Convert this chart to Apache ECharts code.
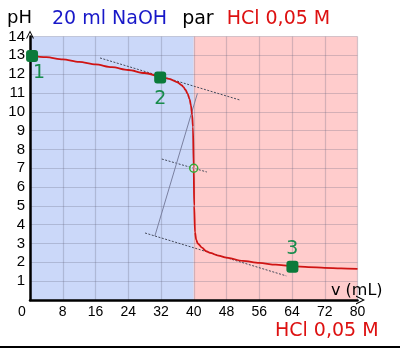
<!DOCTYPE html>
<html><head><meta charset="utf-8">
<script src="https://cdn.jsdelivr.net/npm/echarts@6/dist/echarts.min.js"></script>
<style>html,body{margin:0;padding:0;background:#fff}#c{width:400px;height:348px}</style>
</head><body><div id="c"></div>
<script>
// titration curve (volume of HCl in mL, pH)
const volume = [0, 4, 8, 12, 16, 20, 24, 28, 32, 34, 36, 37, 37.5, 38, 38.5, 39, 39.3, 39.6, 39.8, 40, 40.1, 40.3, 40.6, 41, 42, 43, 44, 46, 48, 52, 56, 60, 64, 68, 72, 76, 80];
const pH = [13.0, 12.9, 12.78, 12.65, 12.52, 12.37, 12.22, 12.06, 11.87, 11.75, 11.57, 11.42, 11.31, 11.16, 10.96, 10.66, 10.35, 9.85, 9.2, 7.0, 5.0, 3.6, 3.2, 3.0, 2.78, 2.6, 2.5, 2.36, 2.25, 2.08, 1.97, 1.88, 1.8, 1.75, 1.71, 1.68, 1.65];
// marked points
const pointV = [0.5, 31.8, 64.1];
const pointPH = [12.97, 11.82, 1.77];
const pointLabels = ['1', '2', '3'];
// equivalence point
const eqV = 40, eqPH = 7;
// construction lines (tangent method)
const upperTangent = [[17.1, 12.86], [51.2, 10.63]];
const lowerTangent = [[28.1, 3.56], [62.6, 1.28]];
const middleLine = [[32.2, 7.49], [43.2, 6.8]];
const connector = [[40.9, 10.98], [30.5, 3.4]];
// background zones
const zoneBase = [0, 40];
const zoneAcid = [40, 80];
const xTicks = [0, 8, 16, 24, 32, 40, 48, 56, 64, 72, 80];
const yTicks = [0, 14];

const chart = echarts.init(document.getElementById('c'), null, {renderer: 'canvas'});
const arrowPath = 'path://M0,10 L5,0 L10,10 L8.6,10 L5,2.6 L1.4,10 Z';
const T = 'DejaVu Sans';
const L = 'Liberation Sans, Arial, sans-serif';

chart.setOption({
  animation: false,
  grid: {left: 30, right: 42.5, top: 36.5, bottom: 48},
  xAxis: {
    type: 'value', min: xTicks[0], max: xTicks[xTicks.length - 1], interval: 8, z: 2,
    axisLine: {show: true, lineStyle: {color: '#000', width: 2.5}, symbol: ['none', arrowPath], symbolSize: [9, 10], symbolOffset: [0, 3]},
    axisTick: {show: false},
    splitLine: {show: true, lineStyle: {color: 'rgba(100,100,125,0.28)', width: 1.2}},
    axisLabel: {
      color: '#000', fontSize: 14, fontFamily: L, margin: 5,
      formatter: v => v === 0 ? '{z|0}' : String(v),
      rich: {z: {fontSize: 14, fontFamily: L, color: '#000', padding: [0, 16, 0, 0]}}
    }
  },
  yAxis: {
    type: 'value', min: yTicks[0], max: yTicks[1], interval: 1, z: 2,
    axisLine: {show: true, onZero: false, lineStyle: {color: '#000', width: 2.5}, symbol: ['none', arrowPath], symbolSize: [8, 9], symbolOffset: [0, 2]},
    axisTick: {show: false},
    splitLine: {show: true, lineStyle: {color: 'rgba(100,100,125,0.28)', width: 1.2}},
    axisLabel: {color: '#000', fontSize: 15, fontFamily: L, margin: 5, showMinLabel: false}
  },
  title: [
    {left: 52, top: 7, padding: 0, text: '{b|20 ml NaOH}{k|par}{r|HCl 0,05 M}',
     textStyle: {fontWeight: 'normal', rich: {
       b: {color: '#1818c8', fontSize: 19, fontFamily: T, fontWeight: 'normal', lineHeight: 24},
       k: {color: '#000', fontSize: 19, fontFamily: T, fontWeight: 'normal', lineHeight: 24, padding: [0, 0, 0, 15]},
       r: {color: '#dd1111', fontSize: 19, fontFamily: T, fontWeight: 'normal', lineHeight: 24, padding: [0, 0, 0, 13]}
     }}},
    {left: 275, top: 319, padding: 0, text: 'HCl 0,05 M', textStyle: {color: '#dd1111', fontSize: 19, fontFamily: T, fontWeight: 'normal', lineHeight: 24}},
    {left: 7, top: 6, padding: 0, text: 'pH', textStyle: {color: '#000', fontSize: 18, fontFamily: T, fontWeight: 'normal', lineHeight: 24}},
    {left: 331, top: 280, padding: 0, text: 'v (mL)', textStyle: {color: '#000', fontSize: 16, fontFamily: T, fontWeight: 'normal', lineHeight: 22}}
  ],
  graphic: [
    {type: 'line', shape: {x1: 0, y1: 347, x2: 400, y2: 347}, style: {stroke: '#000', lineWidth: 2}}
  ],
  series: [
    {type: 'line', data: [], z: 1, silent: true,
     markArea: {silent: true, z: 1, data: [
       [{xAxis: zoneBase[0], yAxis: yTicks[0], itemStyle: {color: '#cbd8f9'}}, {xAxis: zoneBase[1], yAxis: yTicks[1]}],
       [{xAxis: zoneAcid[0], yAxis: yTicks[0], itemStyle: {color: '#ffcccc'}}, {xAxis: zoneAcid[1], yAxis: yTicks[1]}]
     ]}},
    {type: 'line', data: upperTangent, symbol: 'none', z: 3, silent: true, lineStyle: {color: '#444a5a', width: 1, type: [2, 1.5]}},
    {type: 'line', data: lowerTangent, symbol: 'none', z: 3, silent: true, lineStyle: {color: '#444a5a', width: 1, type: [2, 1.5]}},
    {type: 'line', data: middleLine, symbol: 'none', z: 3, silent: true, lineStyle: {color: '#444a5a', width: 1, type: [2, 1.5]}},
    {type: 'line', data: connector, symbol: 'none', z: 3, silent: true, lineStyle: {color: '#7a80a0', width: 1}},
    {type: 'line', data: volume.map((v, i) => [v, pH[i]]), symbol: 'none', z: 4, smooth: 0.3, smoothMonotone: 'x',
     lineStyle: {color: '#d01414', width: 1.8}},
    {type: 'scatter', data: [[eqV, eqPH]], z: 5, symbol: 'circle', symbolSize: 8,
     itemStyle: {opacity: 1, color: 'rgba(255,255,255,0.25)', borderColor: '#33aa33', borderWidth: 1.5}},
    {type: 'scatter', z: 6, symbol: 'roundRect', symbolSize: 12, itemStyle: {color: '#0b7a3a', opacity: 1},
     data: pointV.map((v, i) => ({
       value: [v, pointPH[i]],
       label: {show: true, formatter: pointLabels[i], position: i === 2 ? 'top' : 'bottom',
               distance: i === 1 ? 6 : 2, offset: i === 0 ? [7, 0] : [0, 0],
               color: '#178c4c', fontSize: 19, fontFamily: T}
     }))}
  ]
});
</script></body></html>
